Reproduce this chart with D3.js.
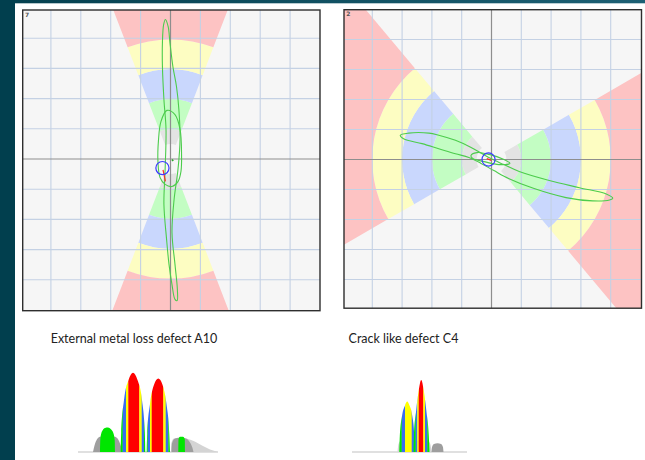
<!DOCTYPE html>
<html>
<head>
<meta charset="utf-8">
<script src="https://cdn.jsdelivr.net/npm/d3@7"></script>
<style>
body{margin:0;background:#fff;}
svg{display:block;}
</style>
</head>
<body>
<div id="chart"></div>
<script>
// ---- data ----
var titleA = "External metal loss defect A10";
var titleC = "Crack like defect C4";
var labelA = "7";
var labelC = "2";
var gridTicks = [-4, -3, -2, -1, 1, 2, 3, 4]; // grid lines, grid units
var zoneNames = ["grey", "green", "blue", "yellow", "red"];
var zoneRadii = [0.5, 1, 2, 3, 4, 12]; // zone i goes from zoneRadii[i] to zoneRadii[i+1]
var wingsA = [[-21, 21], [159, 201]]; // degrees, clockwise from up
var wingsC = [[60, 140], [-120, -40]];

// signal loops, grid units (x right, y up)
var loopA1 = [[-0.17, 4.62], [-0.08, 4.39], [-0.02, 3.87], [0.08, 3.06], [0.2, 2.4], [0.28, 1.64], [0.32, 0.65],
  [0.25, -0.35], [0.12, -1.34], [0.05, -2.43], [0.15, -3.49], [0.23, -4.32], [0.22, -4.69], [0.15, -4.65],
  [0.05, -4.16], [-0.05, -3.49], [-0.13, -2.67], [-0.22, -1.51], [-0.18, -0.35], [-0.15, 0.98], [-0.22, 1.97],
  [-0.27, 3.06], [-0.27, 3.86], [-0.23, 4.45]];
var loopA2 = [[-0.12, 1.61], [0.15, 1.47], [0.32, 0.98], [0.37, 0.15], [0.35, -0.41], [0.25, -0.75], [0.05, -0.91],
  [-0.18, -0.84], [-0.35, -0.61], [-0.42, -0.08], [-0.4, 0.65], [-0.32, 1.24]];
var loopC1 = [[-3.06, 0.81], [-2.78, 0.88], [-2.1, 0.88], [-1.77, 0.81], [-1.21, 0.64], [-0.7, 0.41], [-0.31, 0.19],
  [-0.02, 0.03], [0.42, -0.17], [0.93, -0.4], [1.94, -0.7], [2.95, -0.94], [3.85, -1.15], [4.07, -1.29],
  [3.96, -1.35], [3.39, -1.38], [2.5, -1.27], [1.43, -0.97], [0.59, -0.64], [0.08, -0.37], [-0.35, -0.13],
  [-0.76, 0.07], [-1.21, 0.19], [-1.77, 0.36], [-2.33, 0.53], [-2.95, 0.69]];
var loopC2 = [[-0.69, 0.13], [-0.49, 0.23], [-0.08, 0.17], [0.42, 0.0], [0.62, -0.13], [0.25, -0.17], [-0.25, -0.07], [-0.62, 0.03]];
var probeA = [-0.27, -0.3];
var probeC = [-0.1, 0.0];
var traceA = [[-0.25, -0.36], [-0.17, -0.74]];
var traceC = [[-0.16, 0.03], [0.0, -0.03]];
var markA = [[0.05, -0.02], [0.09, -0.07]];

// strip charts: each layer = outline points [sample, amplitude] + colour bands [from sample, zone]
var stripA = [
  {bands: [[0, "light"]], pts: [[93, 0], [93.5, 12], [96, 17], [105, 17.5], [115, 14], [124, 8], [132, 3], [140, 0]]},
  {bands: [[0, "grey"]], pts: [[15, 0], [16.5, 8], [19, 16], [22, 19], [30, 20], [37, 19], [40.5, 15], [43, 7], [44.5, 0]]},
  {bands: [[0, "grey"]], pts: [[93.5, 0], [94, 11], [97, 17], [103, 18], [108, 17], [112, 12], [114.5, 5], [115.5, 0]]},
  {bands: [[0, "green"]], pts: [[22, 0], [22.3, 15], [23, 22], [24.5, 27], [27, 30], [30, 30.5], [33, 28.5], [35.5, 23], [36.7, 15], [37, 0]]},
  {bands: [[0, "green"]], pts: [[100.3, 0], [100.5, 16], [102, 19], [105, 19], [106.8, 16], [107, 0]]},
  {bands: [[0, "green"], [44.7, "blue"], [48, "yellow"], [50.3, "red"], [61.3, "yellow"], [63.7, "blue"], [66, "green"]],
    pts: [[42.7, 0], [43.2, 24], [46, 65], [50.5, 90], [55, 99], [59.5, 90], [64, 65], [66.8, 24], [67.3, 0]]},
  {bands: [[0, "green"], [69.7, "blue"], [72, "yellow"], [73.7, "red"], [85.3, "yellow"], [87.7, "blue"], [90.3, "green"]],
    pts: [[68.7, 0], [69.2, 22], [72, 60], [76, 84], [80.3, 92], [84.5, 84], [88.5, 60], [91.3, 22], [92, 0]]}
];
var stripC = [
  {bands: [[0, "light"]], pts: [[45.5, 0], [46.5, 10], [49, 14], [76, 14], [78.5, 9], [79.5, 0]]},
  {bands: [[0, "grey"]], pts: [[79.5, 0], [80, 6], [82, 10], [85.5, 11], [89, 10], [91, 6], [91.5, 0]]},
  {bands: [[0, "green"], [49.7, "blue"], [53, "yellow"], [59.7, "blue"], [62, "green"]],
    pts: [[47.3, 0], [47.8, 20], [50, 45], [53, 58], [55.2, 63], [57.5, 58], [60.3, 45], [62.3, 20], [62.8, 0]]},
  {bands: [[0, "green"], [63.7, "blue"], [65.3, "yellow"], [66.7, "red"], [71.3, "yellow"], [73, "blue"], [75.3, "green"]],
    pts: [[61.5, 0], [62, 20], [64, 50], [66.5, 75], [69.2, 90], [72, 75], [74.5, 50], [76.8, 20], [77.5, 0]]}
];

// ---- layout / style ----
var config = {
  w: 645,
  h: 460,
  panelA: {x0: 22.7, y0: 10, x1: 320, y1: 310.7, cx: 170.5, cy: 159, ux: 29.9, uy: 30.2},
  panelC: {x0: 344, y0: 9.7, x1: 641.5, y1: 308.2, cx: 491.5, cy: 159.5, ux: 29.8, uy: 30},
  stripA: {x0: 78, x1: 218, n: 140, base: 452, top: 372},
  stripC: {x0: 352, x1: 467, n: 115, base: 452, top: 372},
  zoneFill: {grey: "#e3e3e3", green: "#c3fdc3", blue: "#c9d7fd", yellow: "#fdfdc2", red: "#fdc3c3"},
  stripFill: {light: "#d4d4d4", grey: "#9e9e9e", green: "#00e600", blue: "#3a6df0", yellow: "#ffff00", red: "#ff0000"},
  font: "Lato, 'Open Sans', sans-serif"
};

var svg = d3.select("#chart").append("svg")
  .attr("width", config.w)
  .attr("height", config.h);

var defs = svg.append("defs");
var topGrad = defs.append("linearGradient").attr("id", "topGrad");
topGrad.append("stop").attr("offset", "0%").attr("stop-color", "#04404f");
topGrad.append("stop").attr("offset", "100%").attr("stop-color", "#1d6074");

// slide background: dark strips left and top
svg.append("rect").attr("width", config.w).attr("height", config.h).style("fill", "#fff");
svg.append("rect").attr("x", 0).attr("y", 0).attr("width", config.w).attr("height", 3.3).style("fill", "url(#topGrad)");
svg.append("rect").attr("x", 0).attr("y", 0).attr("width", 15).attr("height", config.h).style("fill", "#013f4e");

function drawPanel(cfg, wings, loops, probe, trace, mark, label){
  var x = d3.scaleLinear().domain([0, 1]).range([cfg.cx, cfg.cx + cfg.ux]);
  var y = d3.scaleLinear().domain([0, 1]).range([cfg.cy, cfg.cy - cfg.uy]);

  defs.append("clipPath").attr("id", "clip" + label)
    .append("rect")
    .attr("x", cfg.x0).attr("y", cfg.y0)
    .attr("width", cfg.x1 - cfg.x0).attr("height", cfg.y1 - cfg.y0);

  var g = svg.append("g").attr("clip-path", "url(#clip" + label + ")");

  g.append("rect")
    .attr("x", cfg.x0).attr("y", cfg.y0)
    .attr("width", cfg.x1 - cfg.x0).attr("height", cfg.y1 - cfg.y0)
    .style("fill", "#f6f6f6"); //plot background

  var zones = [];
  wings.forEach(function(w){
    zoneNames.forEach(function(z, i){
      zones.push({zone: z, a0: w[0], a1: w[1], r0: zoneRadii[i], r1: zoneRadii[i + 1]});
    });
  }); //one annular sector per zone per wing

  var arc = d3.arc();
  g.append("g")
    .attr("transform", "translate(" + x(0) + "," + y(0) + ")")
    .selectAll("path")
    .data(zones)
    .enter()
    .append("path")
    .attr("d", function(d){
      return arc({
        innerRadius: x(d.r0) - x(0),
        outerRadius: x(d.r1) - x(0),
        startAngle: d.a0 * Math.PI / 180,
        endAngle: d.a1 * Math.PI / 180
      });
    })
    .style("fill", function(d){ return config.zoneFill[d.zone]; });

  g.selectAll(".gx")
    .data(gridTicks)
    .enter()
    .append("line")
    .attr("class", "gx")
    .attr("x1", function(d){ return x(d); })
    .attr("x2", function(d){ return x(d); })
    .attr("y1", cfg.y0).attr("y2", cfg.y1)
    .style("stroke", "#c4d1e4").style("stroke-width", 1.1);

  g.selectAll(".gy")
    .data(gridTicks)
    .enter()
    .append("line")
    .attr("class", "gy")
    .attr("y1", function(d){ return y(d); })
    .attr("y2", function(d){ return y(d); })
    .attr("x1", cfg.x0).attr("x2", cfg.x1)
    .style("stroke", "#c4d1e4").style("stroke-width", 1.1);

  g.append("line")
    .attr("x1", x(0)).attr("x2", x(0)).attr("y1", cfg.y0).attr("y2", cfg.y1)
    .style("stroke", "#8e8e8e").style("stroke-width", 1.2);
  g.append("line")
    .attr("y1", y(0)).attr("y2", y(0)).attr("x1", cfg.x0).attr("x2", cfg.x1)
    .style("stroke", "#8e8e8e").style("stroke-width", 1.2); //axes through the origin

  var loopLine = d3.line()
    .x(function(d){ return x(d[0]); })
    .y(function(d){ return y(d[1]); })
    .curve(d3.curveCatmullRomClosed.alpha(0.5));

  g.selectAll(".loop")
    .data(loops)
    .enter()
    .append("path")
    .attr("class", "loop")
    .attr("d", loopLine)
    .style("fill", "none")
    .style("stroke", "#4ccc4c")
    .style("stroke-width", 1.1);

  var segLine = d3.line()
    .x(function(d){ return x(d[0]); })
    .y(function(d){ return y(d[1]); });

  if(mark){
    g.append("path").attr("d", segLine(mark))
      .style("stroke", "#2aa82a").style("stroke-width", 1.6).style("fill", "none");
  }

  g.append("path").attr("d", segLine(trace))
    .style("stroke", "#ff2a2a").style("stroke-width", 1.2).style("fill", "none");

  g.append("circle")
    .attr("cx", x(probe[0])).attr("cy", y(probe[1]))
    .attr("r", x(0.22) - x(0))
    .style("fill", "none").style("stroke", "#3b3bff").style("stroke-width", 1.2);

  svg.append("rect")
    .attr("x", cfg.x0).attr("y", cfg.y0)
    .attr("width", cfg.x1 - cfg.x0).attr("height", cfg.y1 - cfg.y0)
    .style("fill", "none").style("stroke", "#2e2e2e").style("stroke-width", 1.4); //frame

  svg.append("text")
    .attr("x", cfg.x0 + 2.2).attr("y", cfg.y0 + 6.6)
    .style("font-family", "DejaVu Sans, sans-serif")
    .style("font-size", "6px")
    .style("font-weight", "bold")
    .style("fill", "#555")
    .text(label);
}

drawPanel(config.panelA, wingsA, [loopA1, loopA2], probeA, traceA, markA, labelA);
drawPanel(config.panelC, wingsC, [loopC1, loopC2], probeC, traceC, null, labelC);

svg.append("text")
  .attr("x", 134).attr("y", 343)
  .attr("text-anchor", "middle")
  .style("font-family", config.font).style("font-size", "12.5px").style("fill", "#222")
  .text(titleA);

svg.append("text")
  .attr("x", 403.5).attr("y", 343)
  .attr("text-anchor", "middle")
  .style("font-family", config.font).style("font-size", "12.5px").style("fill", "#222")
  .text(titleC);

function drawStrip(cfg, layers, id){
  var x = d3.scaleLinear().domain([0, cfg.n]).range([cfg.x0, cfg.x1]);
  var y = d3.scaleLinear().domain([0, 100]).range([cfg.base, cfg.top]);
  var g = svg.append("g");

  g.append("line")
    .attr("x1", x(0)).attr("x2", x(cfg.n))
    .attr("y1", y(0)).attr("y2", y(0))
    .style("stroke", "#d6d6d6").style("stroke-width", 1.6); //baseline

  var area = d3.line()
    .x(function(d){ return x(d[0]); })
    .y(function(d){ return y(d[1]); })
    .curve(d3.curveMonotoneX);

  layers.forEach(function(layer, li){
    var cid = "strip" + id + li;
    defs.append("clipPath").attr("id", cid)
      .append("path").attr("d", area(layer.pts) + "Z");
    var lg = g.append("g").attr("clip-path", "url(#" + cid + ")");
    var end = layer.pts[layer.pts.length - 1][0];
    lg.selectAll("rect")
      .data(layer.bands)
      .enter()
      .append("rect")
      .attr("x", function(d){ return x(d[0]); })
      .attr("width", function(d, i){
        var next = i < layer.bands.length - 1 ? layer.bands[i + 1][0] : end + 1;
        return x(next) - x(d[0]) + 0.2;
      })
      .attr("y", y(100))
      .attr("height", y(0) - y(100) + 1)
      .style("fill", function(d){ return config.stripFill[d[1]]; });
  });
}

drawStrip(config.stripA, stripA, "A");
drawStrip(config.stripC, stripC, "C");
</script>
</body>
</html>
